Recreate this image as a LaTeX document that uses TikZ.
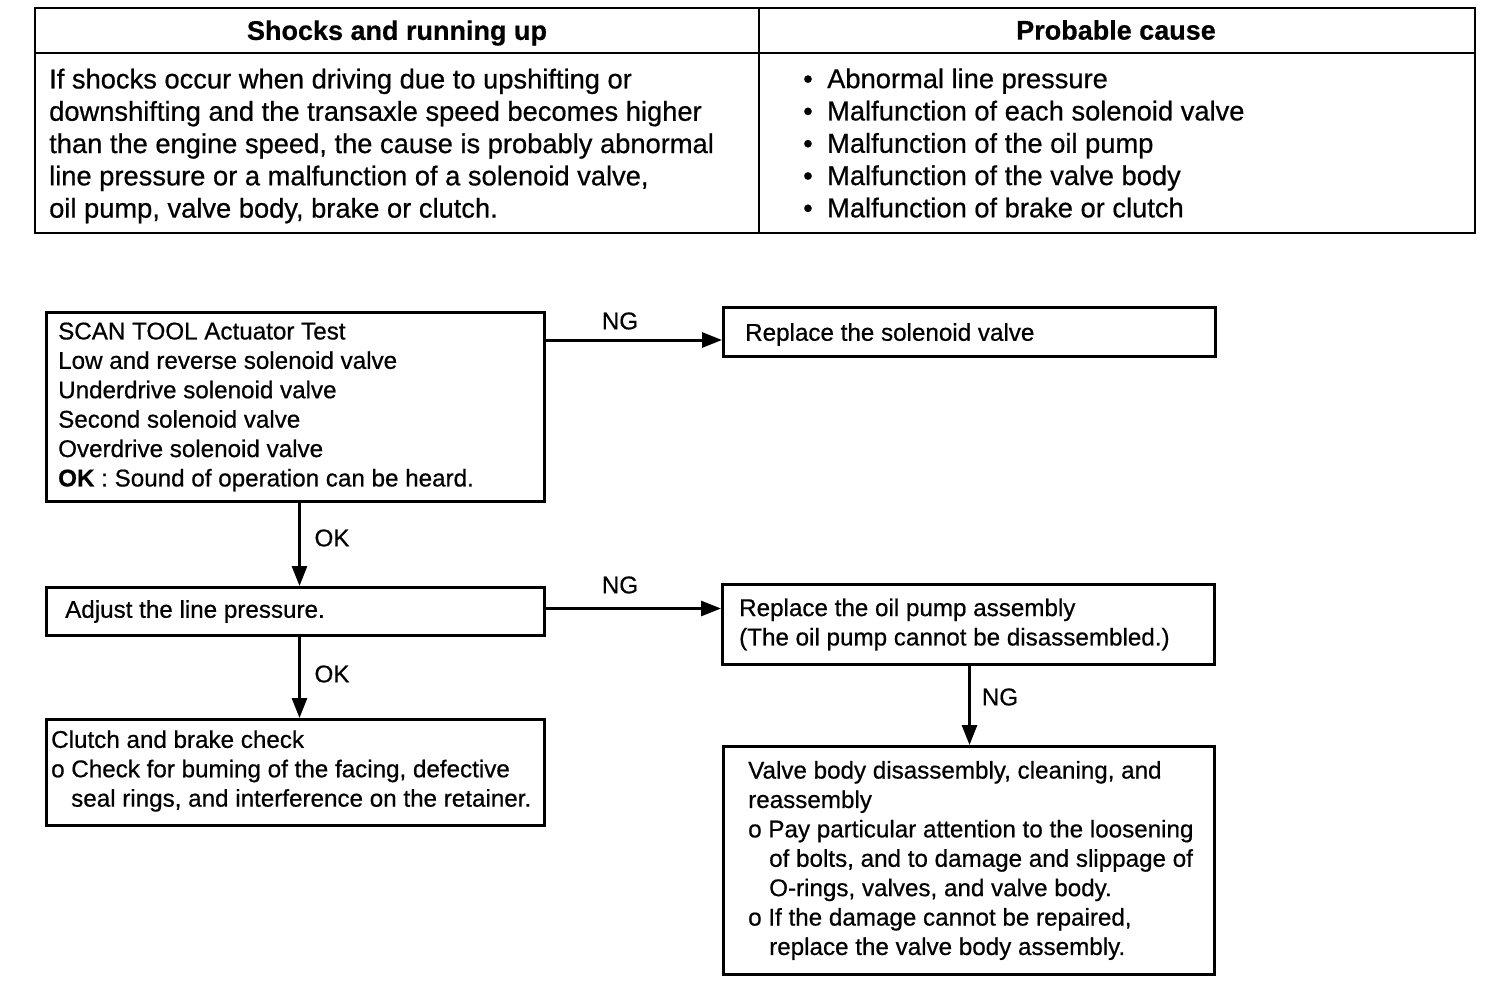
\documentclass[tikz,border=0pt]{standalone}
\usepackage{fontspec}
\setmainfont{Liberation Sans}[FakeBold=0.6]
\usetikzlibrary{arrows.meta}
\newcommand{\flowfont}{\fontsize{24.2}{29.4}\selectfont}
\newcommand{\tabfont}{\fontsize{27.3}{32.3}\selectfont}
\newcommand{\headfont}{\fontsize{27}{32}\selectfont\bfseries}
\newcommand{\bul}{\makebox[24pt][l]{\textbullet}}
\begin{document}
\begin{tikzpicture}[x=1pt,y=-1pt,
  boxnode/.style={draw, line width=3pt, anchor=north west, inner sep=0pt},
  txt/.style={anchor=west, align=left, inner sep=0pt, font=\flowfont},
  lbl/.style={inner sep=0pt, font=\flowfont},
  arr/.style={line width=3pt, -{Triangle[length=20pt,width=15pt]}},
  tabline/.style={line width=2.5pt}]
\useasboundingbox (0,0) rectangle (1504,1008);
% table
\draw[tabline] (35,8) rectangle (1475,233);
\draw[tabline] (35,53) -- (1475,53);
\draw[tabline] (759,8) -- (759,233);
\node[inner sep=0pt, font=\headfont] (h1) at (397,33) {Shocks and running up};
\node[inner sep=0pt, font=\headfont] (h2) at (1116,30) {Probable cause};
\node[anchor=west, align=left, inner sep=0pt, font=\tabfont] (c1) at (49,146) {If shocks occur when driving due to upshifting or\\downshifting and the transaxle speed becomes higher\\than the engine speed, the cause is probably abnormal\\line pressure or a malfunction of a solenoid valve,\\oil pump, valve body, brake or clutch.};
\node[anchor=west, align=left, inner sep=0pt, font=\tabfont] (c2) at (803,143) {\bul Abnormal line pressure\\\bul Malfunction of each solenoid valve\\\bul Malfunction of the oil pump\\\bul Malfunction of the valve body\\\bul Malfunction of brake or clutch};
% flow boxes
\node[boxnode, minimum width=498, minimum height=189] (b1) at (45,311) {};
\node[boxnode, minimum width=492, minimum height=49] (b2) at (722,306) {};
\node[boxnode, minimum width=498, minimum height=48] (b3) at (45,586) {};
\node[boxnode, minimum width=492, minimum height=80] (b4) at (721,583) {};
\node[boxnode, minimum width=498, minimum height=106] (b5) at (45,718) {};
\node[boxnode, minimum width=491, minimum height=228] (b6) at (722,745) {};
% texts
\node[txt] (t1) at ([xshift=13pt]b1.west) {SCAN TOOL Actuator Test\\Low and reverse solenoid valve\\Underdrive solenoid valve\\Second solenoid valve\\Overdrive solenoid valve\\\textbf{OK} : Sound of operation can be heard.};
\node[txt] (t2) at ([xshift=23pt,yshift=-2.5pt]b2.west) {Replace the solenoid valve};
\node[txt] (t3) at ([xshift=20pt]b3.west) {Adjust the line pressure.};
\node[txt] (t4) at ([xshift=18pt]b4.west) {Replace the oil pump assembly\\(The oil pump cannot be disassembled.)};
\node[txt] (t5) at ([xshift=6pt,yshift=1.5pt]b5.west) {Clutch and brake check\\o Check for buming of the facing, defective\\\hspace*{20pt}seal rings, and interference on the retainer.};
\node[txt] (t6) at ([xshift=26pt]b6.west) {Valve body disassembly, cleaning, and\\reassembly\\o Pay particular attention to the loosening\\\hspace*{21pt}of bolts, and to damage and slippage of\\\hspace*{21pt}O-rings, valves, and valve body.\\o If the damage cannot be repaired,\\\hspace*{21pt}replace the valve body assembly.};
% connectors
\draw[arr] ([yshift=-29pt]b1.north east) -- ([yshift=-29pt]b1.north east -| b2.west);
\draw[arr] ([xshift=4pt]b1.south) -- ([xshift=4pt]b1.south |- b3.north);
\draw[arr] ([yshift=3pt]b3.east) -- ([yshift=3pt]b3.east -| b4.west);
\draw[arr] ([xshift=4pt]b3.south) -- ([xshift=4pt]b3.south |- b5.north);
\draw[arr] ([xshift=1pt]b4.south) -- ([xshift=1pt]b4.south |- b6.north);
% labels
\node[lbl] (n1) at (620,321) {NG};
\node[lbl] (o1) at (332,538) {OK};
\node[lbl] (n2) at (620,585) {NG};
\node[lbl] (o2) at (332,674) {OK};
\node[lbl] (n3) at (1000,697) {NG};
\end{tikzpicture}
\end{document}
